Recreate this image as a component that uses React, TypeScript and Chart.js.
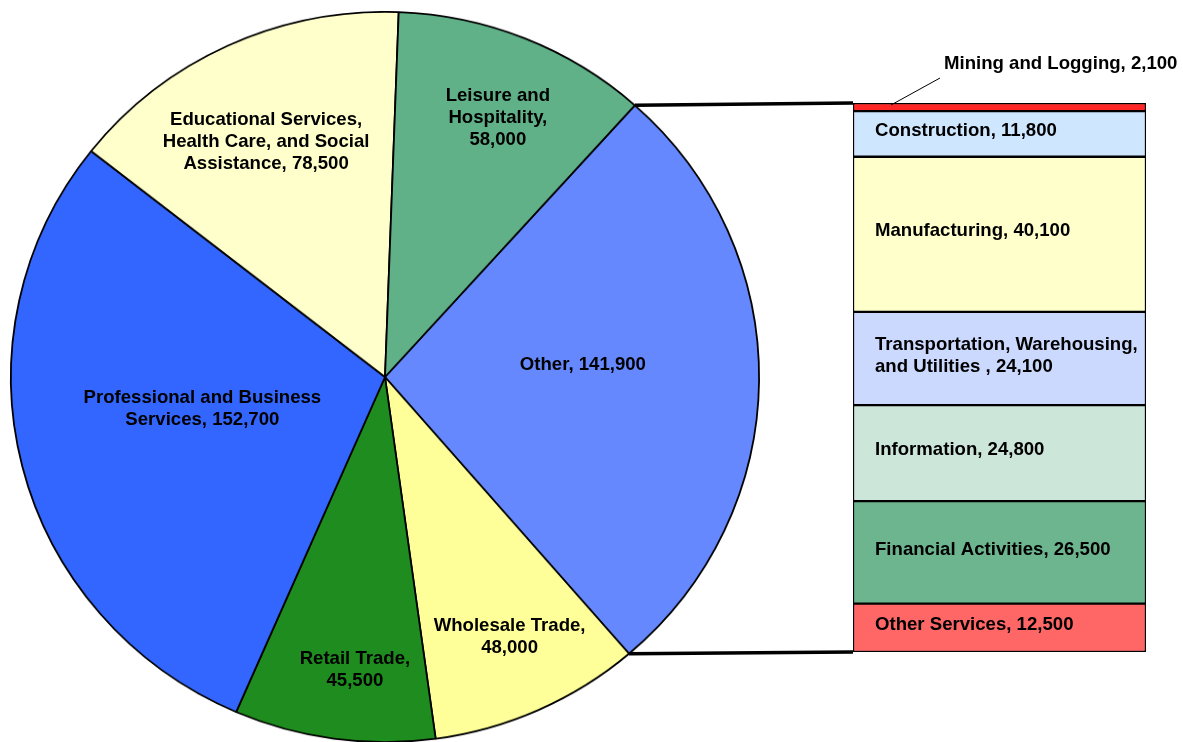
import React, { useEffect, useRef } from "react";
import { Chart, registerables } from "chart.js";

Chart.register(...registerables);

// ---- Pie data (clockwise from the split-off "Other" slice) ----
const pieCategories = [
  "Other",
  "Wholesale Trade",
  "Retail Trade",
  "Professional and Business Services",
  "Educational Services, Health Care, and Social Assistance",
  "Leisure and Hospitality",
];
const pieValues = [141900, 48000, 45500, 152700, 78500, 58000];
const pieColors = ["#6688FF", "#FFFF99", "#1E8C1E", "#3366FF", "#FFFFCC", "#60B088"];
const pieLabelLines = [
  ["Other, {v}"],
  ["Wholesale Trade,", "{v}"],
  ["Retail Trade,", "{v}"],
  ["Professional and Business", "Services, {v}"],
  ["Educational Services,", "Health Care, and Social", "Assistance, {v}"],
  ["Leisure and", "Hospitality,", "{v}"],
];
// label placement: [angle offset from slice bisector (deg, clockwise), fraction of radius]
const pieLabelPlacement = [
  [-4.2, 0.53],
  [-0.85, 0.785],
  [-2.1, 0.805],
  [4.0, 0.496],
  [-1.4, 0.719],
  [1.0, 0.772],
];

// ---- Bar (breakdown of "Other"), top to bottom ----
const barCategories = [
  "Mining and Logging",
  "Construction",
  "Manufacturing",
  "Transportation, Warehousing, and Utilities",
  "Information",
  "Financial Activities",
  "Other Services",
];
const barValues = [2100, 11800, 40100, 24100, 24800, 26500, 12500];
const barColors = ["#FF2626", "#CFE6FF", "#FFFFCC", "#CCD9FF", "#CCE6D9", "#6DB58F", "#FF6666"];
const barLabelLines = [
  ["Mining and Logging, {v}"],
  ["Construction, {v}"],
  ["Manufacturing, {v}"],
  ["Transportation, Warehousing,", "and Utilities , {v}"],
  ["Information, {v}"],
  ["Financial Activities, {v}"],
  ["Other Services, {v}"],
];

const FONT = "bold 18.6px Arial, 'Liberation Sans', sans-serif";
const LINE_H = 22;
const PIE_W = 770;
const PIE_H = 750;
const PIE_TOP = 11;
const PIE_SCALE_Y = 366 / 375;

const fmt = (v: number) => v.toLocaleString("en-US");

export default function App() {
  const pieCanvas = useRef<HTMLCanvasElement | null>(null);
  const barCanvas = useRef<HTMLCanvasElement | null>(null);

  useEffect(() => {
    document.body.style.margin = "0";
    const pie = new Chart(pieCanvas.current!, {
      type: "pie",
      data: {
        labels: pieCategories,
        datasets: [
          {
            data: pieValues,
            backgroundColor: pieColors,
            borderColor: "#000000",
            borderWidth: 1.8,
            hoverOffset: 0,
          },
        ],
      },
      options: {
        responsive: false,
        animation: false,
        rotation: 41.9,
        layout: { padding: 0 },
        plugins: { legend: { display: false }, tooltip: { enabled: false } },
        events: [],
      },
    });

    const total = barValues.reduce((a, b) => a + b, 0);

    const overlay = {
      id: "overlay",
      afterDraw(chart: any) {
        const ctx: CanvasRenderingContext2D = chart.ctx;
        const arcs = pie.getDatasetMeta(0).data as any[];
        const map = (x: number, y: number) => [x, PIE_TOP + y * PIE_SCALE_Y];

        // bar geometry
        const segs = barValues.map((_, i) => {
          const el: any = chart.getDatasetMeta(i).data[0];
          const p = el.getProps(["x", "y", "base", "width"], true);
          return {
            left: p.x - p.width / 2,
            right: p.x + p.width / 2,
            top: Math.min(p.y, p.base),
            bottom: Math.max(p.y, p.base),
          };
        });
        const barLeft = segs[0].left;
        const barTop = Math.min(...segs.map((s) => s.top));
        const barBottom = Math.max(...segs.map((s) => s.bottom));

        ctx.save();
        // connector lines
        const a0 = arcs[0].getProps(["x", "y", "outerRadius", "startAngle", "endAngle"], true);
        const p1 = map(a0.x + a0.outerRadius * Math.cos(a0.startAngle), a0.y + a0.outerRadius * Math.sin(a0.startAngle));
        const p2 = map(a0.x + a0.outerRadius * Math.cos(a0.endAngle), a0.y + a0.outerRadius * Math.sin(a0.endAngle));
        ctx.strokeStyle = "#000";
        ctx.lineWidth = 3.5;
        ctx.beginPath();
        ctx.moveTo(p1[0], p1[1]);
        ctx.lineTo(barLeft, barTop);
        ctx.moveTo(p2[0], p2[1]);
        ctx.lineTo(barLeft, barBottom);
        ctx.stroke();

        // pie labels
        ctx.font = FONT;
        ctx.fillStyle = "#000";
        ctx.textAlign = "center";
        ctx.textBaseline = "middle";
        arcs.forEach((arc: any, i: number) => {
          const a = arc.getProps(["x", "y", "outerRadius", "startAngle", "endAngle"], true);
          const [off, frac] = pieLabelPlacement[i];
          const ang = (a.startAngle + a.endAngle) / 2 + (off * Math.PI) / 180;
          const r = a.outerRadius * frac;
          const [lx, ly] = map(a.x + r * Math.cos(ang), a.y + r * Math.sin(ang));
          const lines = pieLabelLines[i].map((t) => t.replace("{v}", fmt(pieValues[i])));
          lines.forEach((t, j) => {
            ctx.fillText(t, lx, ly + (j - (lines.length - 1) / 2) * LINE_H);
          });
        });

        // bar labels
        ctx.textAlign = "left";
        segs.forEach((s, i) => {
          const lines = barLabelLines[i].map((t) => t.replace("{v}", fmt(barValues[i])));
          if (i === 0) {
            // small top segment: label above with leader line
            ctx.lineWidth = 1;
            ctx.beginPath();
            ctx.moveTo(s.left + 38, s.top + 2);
            ctx.lineTo(s.left + 87, s.top - 25);
            ctx.stroke();
            ctx.fillText(lines[0], s.left + 91, s.top - 39);
            return;
          }
          const cy = (s.top + s.bottom) / 2 - 3;
          lines.forEach((t, j) => {
            ctx.fillText(t, s.left + 22, cy + (j - (lines.length - 1) / 2) * LINE_H);
          });
        });
        ctx.restore();
      },
    };

    const bar = new Chart(barCanvas.current!, {
      type: "bar",
      data: {
        labels: ["Other"],
        datasets: barValues.map((v, i) => ({
          label: barCategories[i],
          data: [v],
          backgroundColor: barColors[i],
          borderColor: "#000000",
          borderWidth: 1.5,
          borderSkipped: false,
          barPercentage: 1,
          categoryPercentage: 1,
        })),
      },
      options: {
        responsive: false,
        animation: false,
        events: [],
        layout: { padding: { left: 853, right: 37, top: 103, bottom: 90 } },
        scales: {
          x: { display: false, stacked: true },
          y: { display: false, stacked: true, reverse: true, min: 0, max: total },
        },
        plugins: { legend: { display: false }, tooltip: { enabled: false } },
      },
      plugins: [overlay],
    });

    return () => {
      bar.destroy();
      pie.destroy();
    };
  }, []);

  return (
    <div
      style={{
        position: "fixed",
        left: 0,
        top: 0,
        width: 1183,
        height: 742,
        overflow: "hidden",
        background: "#ffffff",
      }}
    >
      <div
        style={{
          position: "absolute",
          left: 0,
          top: PIE_TOP,
          width: PIE_W,
          height: PIE_H,
          transform: `scaleY(${PIE_SCALE_Y})`,
          transformOrigin: "0 0",
        }}
      >
        <canvas ref={pieCanvas} width={PIE_W} height={PIE_H} style={{ width: PIE_W, height: PIE_H }} />
      </div>
      <canvas
        ref={barCanvas}
        width={1183}
        height={742}
        style={{ position: "absolute", left: 0, top: 0, width: 1183, height: 742, pointerEvents: "none" }}
      />
    </div>
  );
}
